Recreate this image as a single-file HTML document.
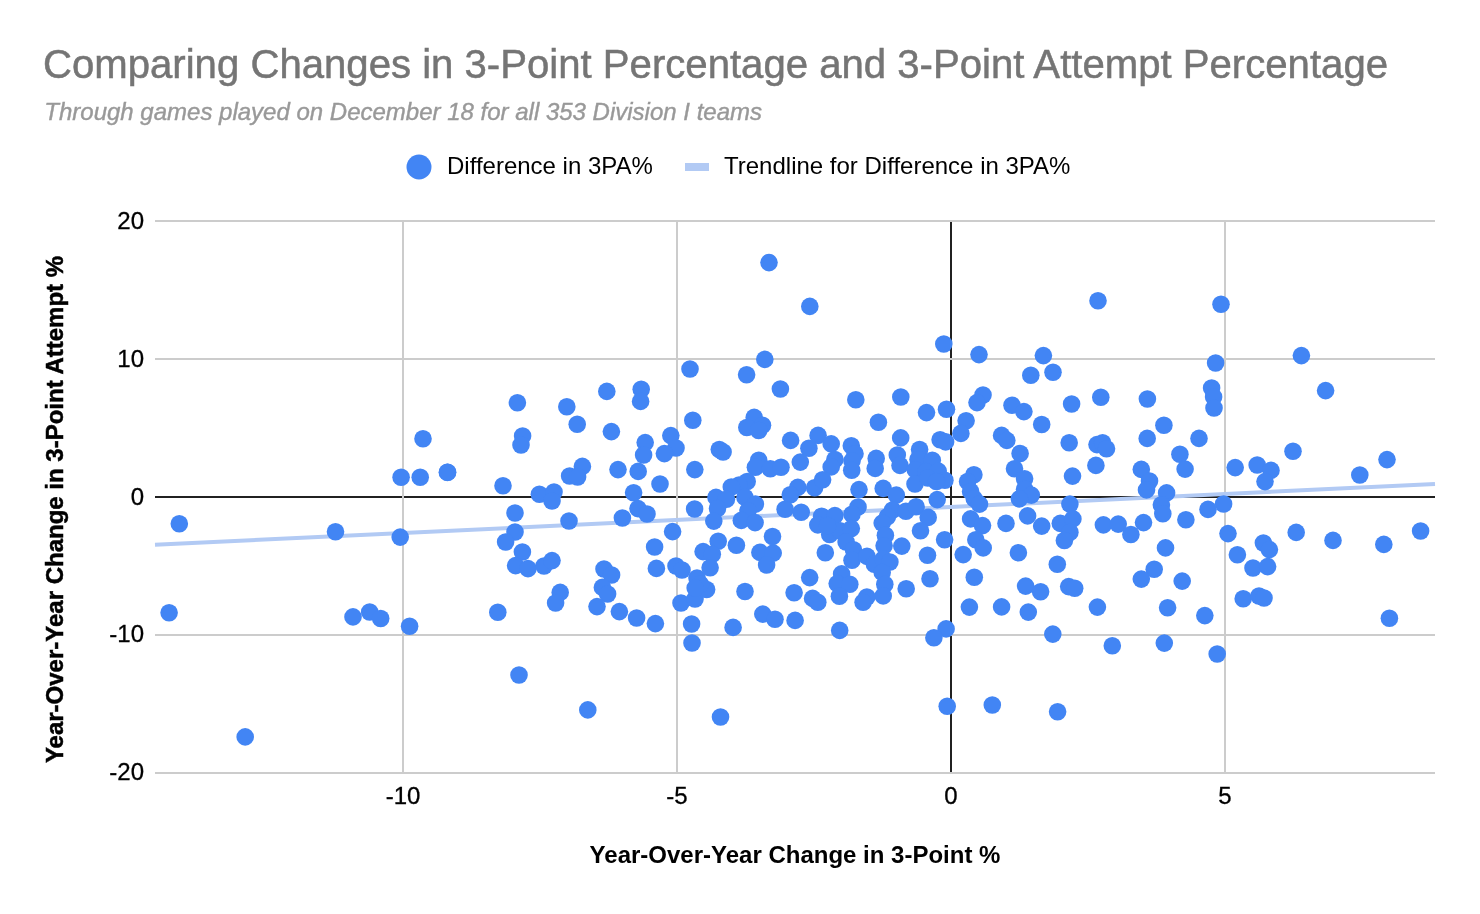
<!DOCTYPE html>
<html><head><meta charset="utf-8"><title>Chart</title>
<style>
html,body{margin:0;padding:0;background:#fff;}
body{width:1480px;height:914px;overflow:hidden;font-family:"Liberation Sans",sans-serif;}
svg{display:block}
text{font-family:"Liberation Sans",sans-serif;}
</style></head><body>
<svg width="1480" height="914" viewBox="0 0 1480 914">
<rect width="1480" height="914" fill="#fff"/>
<text x="43" y="78" font-size="40.13" fill="#757575" stroke="#757575" stroke-width="0.5">Comparing Changes in 3-Point Percentage and 3-Point Attempt Percentage</text>
<text x="44.3" y="120" font-size="24" font-style="italic" fill="#999999" stroke="#999999" stroke-width="0.4">Through games played on December 18 for all 353 Division I teams</text>
<circle cx="419" cy="167" r="12.5" fill="#4285f4"/>
<text x="447" y="174" font-size="24" fill="#000">Difference in 3PA%</text>
<rect x="685" y="163" width="24" height="8" fill="#b2caf4"/>
<text x="724" y="174" font-size="24" fill="#000">Trendline for Difference in 3PA%</text>
<g stroke="#212121" stroke-width="2">
<line x1="155" x2="1435" y1="497" y2="497"/>
<line x1="951" x2="951" y1="221" y2="773"/>
</g>
<g stroke="#cccccc" stroke-width="2">
<line x1="403" x2="403" y1="221" y2="773"/>
<line x1="677" x2="677" y1="221" y2="773"/>
<line x1="1225" x2="1225" y1="221" y2="773"/>
<line x1="155" x2="1435" y1="221" y2="221"/>
<line x1="155" x2="1435" y1="359" y2="359"/>
<line x1="155" x2="1435" y1="635" y2="635"/>
<line x1="155" x2="1435" y1="773" y2="773"/>
</g>
<line x1="155" y1="544.8" x2="1435" y2="484" stroke="#b2caf4" stroke-width="4"/>
<g fill="#4285f4"><circle cx="423.0" cy="438.7" r="8.8"/><circle cx="401.1" cy="477.3" r="8.8"/><circle cx="420.2" cy="477.3" r="8.8"/><circle cx="447.4" cy="472.4" r="8.8"/><circle cx="179.3" cy="523.7" r="8.8"/><circle cx="335.5" cy="531.8" r="8.8"/><circle cx="400.2" cy="537.1" r="8.8"/><circle cx="169.1" cy="612.8" r="8.8"/><circle cx="353.0" cy="616.9" r="8.8"/><circle cx="369.7" cy="612.0" r="8.8"/><circle cx="380.7" cy="618.5" r="8.8"/><circle cx="409.6" cy="626.2" r="8.8"/><circle cx="245.2" cy="736.9" r="8.8"/><circle cx="690.0" cy="369.0" r="8.8"/><circle cx="606.8" cy="391.4" r="8.8"/><circle cx="641.2" cy="389.2" r="8.8"/><circle cx="640.6" cy="401.4" r="8.8"/><circle cx="517.4" cy="402.8" r="8.8"/><circle cx="566.8" cy="406.8" r="8.8"/><circle cx="577.2" cy="424.2" r="8.8"/><circle cx="692.8" cy="420.2" r="8.8"/><circle cx="611.4" cy="431.6" r="8.8"/><circle cx="522.6" cy="436.0" r="8.8"/><circle cx="521.0" cy="445.0" r="8.8"/><circle cx="670.8" cy="435.6" r="8.8"/><circle cx="676.0" cy="448.0" r="8.8"/><circle cx="664.4" cy="453.6" r="8.8"/><circle cx="645.2" cy="442.6" r="8.8"/><circle cx="643.6" cy="455.0" r="8.8"/><circle cx="447.6" cy="472.2" r="8.8"/><circle cx="582.4" cy="466.4" r="8.8"/><circle cx="569.6" cy="476.0" r="8.8"/><circle cx="577.6" cy="477.0" r="8.8"/><circle cx="618.0" cy="469.6" r="8.8"/><circle cx="638.2" cy="471.4" r="8.8"/><circle cx="694.8" cy="469.6" r="8.8"/><circle cx="660.0" cy="484.0" r="8.8"/><circle cx="503.0" cy="485.8" r="8.8"/><circle cx="633.6" cy="492.8" r="8.8"/><circle cx="539.4" cy="494.2" r="8.8"/><circle cx="554.0" cy="492.0" r="8.8"/><circle cx="552.0" cy="501.0" r="8.8"/><circle cx="638.0" cy="508.6" r="8.8"/><circle cx="694.6" cy="509.0" r="8.8"/><circle cx="769.0" cy="262.6" r="8.8"/><circle cx="809.8" cy="306.4" r="8.8"/><circle cx="943.8" cy="344.0" r="8.8"/><circle cx="979.0" cy="354.6" r="8.8"/><circle cx="764.8" cy="359.4" r="8.8"/><circle cx="746.6" cy="374.8" r="8.8"/><circle cx="780.4" cy="389.0" r="8.8"/><circle cx="855.8" cy="399.8" r="8.8"/><circle cx="900.8" cy="397.0" r="8.8"/><circle cx="983.0" cy="395.0" r="8.8"/><circle cx="977.0" cy="402.6" r="8.8"/><circle cx="1098.0" cy="300.8" r="8.8"/><circle cx="1221.0" cy="304.2" r="8.8"/><circle cx="1043.4" cy="355.6" r="8.8"/><circle cx="1215.6" cy="363.0" r="8.8"/><circle cx="1030.8" cy="375.2" r="8.8"/><circle cx="1053.0" cy="372.2" r="8.8"/><circle cx="1100.8" cy="397.2" r="8.8"/><circle cx="1147.4" cy="399.0" r="8.8"/><circle cx="1071.6" cy="404.0" r="8.8"/><circle cx="1211.6" cy="388.0" r="8.8"/><circle cx="1213.6" cy="397.0" r="8.8"/><circle cx="1301.4" cy="355.6" r="8.8"/><circle cx="1325.6" cy="390.6" r="8.8"/><circle cx="1214.0" cy="408.0" r="8.8"/><circle cx="1199.0" cy="438.4" r="8.8"/><circle cx="1235.2" cy="467.6" r="8.8"/><circle cx="1257.2" cy="465.0" r="8.8"/><circle cx="1271.0" cy="470.4" r="8.8"/><circle cx="1265.0" cy="481.6" r="8.8"/><circle cx="1293.0" cy="451.2" r="8.8"/><circle cx="1359.8" cy="475.0" r="8.8"/><circle cx="1387.0" cy="459.6" r="8.8"/><circle cx="1223.6" cy="504.0" r="8.8"/><circle cx="1208.0" cy="509.4" r="8.8"/><circle cx="1228.0" cy="533.6" r="8.8"/><circle cx="1296.2" cy="532.4" r="8.8"/><circle cx="1333.0" cy="540.4" r="8.8"/><circle cx="1383.8" cy="544.4" r="8.8"/><circle cx="1420.6" cy="531.0" r="8.8"/><circle cx="1263.4" cy="543.0" r="8.8"/><circle cx="1269.4" cy="549.6" r="8.8"/><circle cx="1237.4" cy="554.8" r="8.8"/><circle cx="1253.0" cy="568.0" r="8.8"/><circle cx="1267.6" cy="566.6" r="8.8"/><circle cx="1243.2" cy="598.8" r="8.8"/><circle cx="1259.0" cy="596.0" r="8.8"/><circle cx="1264.0" cy="598.0" r="8.8"/><circle cx="1204.8" cy="615.6" r="8.8"/><circle cx="1389.4" cy="618.2" r="8.8"/><circle cx="1217.2" cy="654.0" r="8.8"/><circle cx="1012.0" cy="405.2" r="8.8"/><circle cx="1023.9" cy="411.6" r="8.8"/><circle cx="1041.7" cy="424.5" r="8.8"/><circle cx="1163.9" cy="425.3" r="8.8"/><circle cx="1147.2" cy="438.4" r="8.8"/><circle cx="1001.6" cy="435.4" r="8.8"/><circle cx="1006.8" cy="440.4" r="8.8"/><circle cx="1069.2" cy="442.7" r="8.8"/><circle cx="1097.0" cy="444.6" r="8.8"/><circle cx="1102.6" cy="442.7" r="8.8"/><circle cx="1106.5" cy="448.8" r="8.8"/><circle cx="1020.1" cy="453.5" r="8.8"/><circle cx="1179.9" cy="454.3" r="8.8"/><circle cx="1095.9" cy="465.4" r="8.8"/><circle cx="1185.1" cy="469.1" r="8.8"/><circle cx="1014.5" cy="468.7" r="8.8"/><circle cx="1141.3" cy="469.4" r="8.8"/><circle cx="1072.5" cy="476.1" r="8.8"/><circle cx="1024.6" cy="478.8" r="8.8"/><circle cx="1149.5" cy="481.0" r="8.8"/><circle cx="1146.5" cy="489.9" r="8.8"/><circle cx="1166.6" cy="492.9" r="8.8"/><circle cx="1024.6" cy="489.2" r="8.8"/><circle cx="1031.3" cy="495.1" r="8.8"/><circle cx="1019.4" cy="498.9" r="8.8"/><circle cx="1069.9" cy="504.1" r="8.8"/><circle cx="1161.4" cy="504.8" r="8.8"/><circle cx="1162.8" cy="513.7" r="8.8"/><circle cx="1027.6" cy="515.9" r="8.8"/><circle cx="1006.0" cy="523.4" r="8.8"/><circle cx="1185.9" cy="519.7" r="8.8"/><circle cx="1143.5" cy="522.6" r="8.8"/><circle cx="1060.3" cy="523.4" r="8.8"/><circle cx="1072.9" cy="518.9" r="8.8"/><circle cx="1103.4" cy="524.9" r="8.8"/><circle cx="1118.2" cy="524.1" r="8.8"/><circle cx="1041.7" cy="526.1" r="8.8"/><circle cx="1069.9" cy="532.3" r="8.8"/><circle cx="1064.4" cy="540.5" r="8.8"/><circle cx="1130.9" cy="534.5" r="8.8"/><circle cx="1165.5" cy="547.9" r="8.8"/><circle cx="1018.4" cy="552.7" r="8.8"/><circle cx="1057.3" cy="564.3" r="8.8"/><circle cx="1154.2" cy="569.2" r="8.8"/><circle cx="1141.3" cy="579.1" r="8.8"/><circle cx="1182.2" cy="581.1" r="8.8"/><circle cx="1025.6" cy="586.1" r="8.8"/><circle cx="1040.6" cy="591.8" r="8.8"/><circle cx="1068.7" cy="586.6" r="8.8"/><circle cx="1074.7" cy="588.3" r="8.8"/><circle cx="1001.6" cy="606.9" r="8.8"/><circle cx="1028.3" cy="612.1" r="8.8"/><circle cx="1097.4" cy="607.1" r="8.8"/><circle cx="1167.6" cy="607.7" r="8.8"/><circle cx="1052.8" cy="634.1" r="8.8"/><circle cx="1112.3" cy="645.8" r="8.8"/><circle cx="1164.3" cy="643.1" r="8.8"/><circle cx="992.3" cy="705.0" r="8.8"/><circle cx="1057.6" cy="711.7" r="8.8"/><circle cx="515.0" cy="513.0" r="8.8"/><circle cx="569.0" cy="521.0" r="8.8"/><circle cx="622.4" cy="518.0" r="8.8"/><circle cx="647.0" cy="514.0" r="8.8"/><circle cx="515.0" cy="532.0" r="8.8"/><circle cx="505.6" cy="542.0" r="8.8"/><circle cx="522.4" cy="552.0" r="8.8"/><circle cx="515.6" cy="565.6" r="8.8"/><circle cx="528.0" cy="568.6" r="8.8"/><circle cx="544.0" cy="566.0" r="8.8"/><circle cx="552.0" cy="560.6" r="8.8"/><circle cx="672.6" cy="531.6" r="8.8"/><circle cx="654.6" cy="547.0" r="8.8"/><circle cx="656.4" cy="568.4" r="8.8"/><circle cx="604.0" cy="569.0" r="8.8"/><circle cx="611.6" cy="575.0" r="8.8"/><circle cx="602.4" cy="587.4" r="8.8"/><circle cx="607.6" cy="594.0" r="8.8"/><circle cx="597.0" cy="606.6" r="8.8"/><circle cx="560.2" cy="592.4" r="8.8"/><circle cx="555.6" cy="603.0" r="8.8"/><circle cx="497.8" cy="612.2" r="8.8"/><circle cx="619.4" cy="611.6" r="8.8"/><circle cx="636.6" cy="618.0" r="8.8"/><circle cx="655.4" cy="623.6" r="8.8"/><circle cx="676.0" cy="566.0" r="8.8"/><circle cx="682.0" cy="570.0" r="8.8"/><circle cx="681.0" cy="603.0" r="8.8"/><circle cx="691.6" cy="624.0" r="8.8"/><circle cx="692.0" cy="643.0" r="8.8"/><circle cx="519.0" cy="675.0" r="8.8"/><circle cx="697.0" cy="578.0" r="8.8"/><circle cx="695.0" cy="599.0" r="8.8"/><circle cx="587.8" cy="709.9" r="8.8"/><circle cx="720.5" cy="717.0" r="8.8"/><circle cx="947.2" cy="706.2" r="8.8"/><circle cx="754.2" cy="417.4" r="8.8"/><circle cx="746.8" cy="427.5" r="8.8"/><circle cx="762.5" cy="425.3" r="8.8"/><circle cx="758.7" cy="430.5" r="8.8"/><circle cx="719.3" cy="449.5" r="8.8"/><circle cx="723.1" cy="452.0" r="8.8"/><circle cx="790.6" cy="440.4" r="8.8"/><circle cx="818.1" cy="435.4" r="8.8"/><circle cx="831.2" cy="443.9" r="8.8"/><circle cx="808.9" cy="448.3" r="8.8"/><circle cx="800.3" cy="462.1" r="8.8"/><circle cx="834.9" cy="459.5" r="8.8"/><circle cx="831.2" cy="466.9" r="8.8"/><circle cx="758.7" cy="460.2" r="8.8"/><circle cx="755.4" cy="467.2" r="8.8"/><circle cx="770.3" cy="468.7" r="8.8"/><circle cx="781.0" cy="467.2" r="8.8"/><circle cx="747.2" cy="481.5" r="8.8"/><circle cx="739.1" cy="485.0" r="8.8"/><circle cx="731.3" cy="487.0" r="8.8"/><circle cx="716.0" cy="497.4" r="8.8"/><circle cx="726.4" cy="499.3" r="8.8"/><circle cx="717.5" cy="508.5" r="8.8"/><circle cx="745.0" cy="497.4" r="8.8"/><circle cx="755.4" cy="504.1" r="8.8"/><circle cx="748.0" cy="510.7" r="8.8"/><circle cx="797.8" cy="487.4" r="8.8"/><circle cx="790.3" cy="494.7" r="8.8"/><circle cx="814.6" cy="487.7" r="8.8"/><circle cx="822.6" cy="479.8" r="8.8"/><circle cx="785.1" cy="509.3" r="8.8"/><circle cx="801.2" cy="512.2" r="8.8"/><circle cx="821.6" cy="516.2" r="8.8"/><circle cx="834.9" cy="515.6" r="8.8"/><circle cx="851.3" cy="445.8" r="8.8"/><circle cx="855.0" cy="453.8" r="8.8"/><circle cx="852.0" cy="460.9" r="8.8"/><circle cx="851.7" cy="470.2" r="8.8"/><circle cx="859.0" cy="489.6" r="8.8"/><circle cx="858.0" cy="507.0" r="8.8"/><circle cx="852.0" cy="514.2" r="8.8"/><circle cx="878.4" cy="422.3" r="8.8"/><circle cx="926.5" cy="412.6" r="8.8"/><circle cx="946.5" cy="409.2" r="8.8"/><circle cx="900.7" cy="437.9" r="8.8"/><circle cx="876.2" cy="458.4" r="8.8"/><circle cx="875.2" cy="468.4" r="8.8"/><circle cx="897.3" cy="455.0" r="8.8"/><circle cx="900.0" cy="465.4" r="8.8"/><circle cx="940.1" cy="439.8" r="8.8"/><circle cx="945.6" cy="441.9" r="8.8"/><circle cx="966.1" cy="420.8" r="8.8"/><circle cx="960.9" cy="433.4" r="8.8"/><circle cx="919.6" cy="449.5" r="8.8"/><circle cx="918.0" cy="459.5" r="8.8"/><circle cx="932.3" cy="460.2" r="8.8"/><circle cx="915.3" cy="469.9" r="8.8"/><circle cx="926.0" cy="471.6" r="8.8"/><circle cx="938.2" cy="471.1" r="8.8"/><circle cx="915.0" cy="484.0" r="8.8"/><circle cx="927.9" cy="478.0" r="8.8"/><circle cx="944.9" cy="480.3" r="8.8"/><circle cx="936.4" cy="481.5" r="8.8"/><circle cx="937.2" cy="499.6" r="8.8"/><circle cx="883.2" cy="488.4" r="8.8"/><circle cx="896.3" cy="495.1" r="8.8"/><circle cx="973.9" cy="474.8" r="8.8"/><circle cx="967.6" cy="481.5" r="8.8"/><circle cx="970.6" cy="491.4" r="8.8"/><circle cx="974.3" cy="498.9" r="8.8"/><circle cx="979.5" cy="504.1" r="8.8"/><circle cx="970.6" cy="518.9" r="8.8"/><circle cx="892.6" cy="510.0" r="8.8"/><circle cx="887.4" cy="516.7" r="8.8"/><circle cx="905.9" cy="511.2" r="8.8"/><circle cx="916.1" cy="506.7" r="8.8"/><circle cx="928.2" cy="517.4" r="8.8"/><circle cx="713.8" cy="521.1" r="8.8"/><circle cx="718.2" cy="541.2" r="8.8"/><circle cx="703.1" cy="551.6" r="8.8"/><circle cx="712.3" cy="554.3" r="8.8"/><circle cx="710.1" cy="567.7" r="8.8"/><circle cx="706.6" cy="589.5" r="8.8"/><circle cx="700.4" cy="584.3" r="8.8"/><circle cx="736.4" cy="545.2" r="8.8"/><circle cx="741.3" cy="520.4" r="8.8"/><circle cx="755.1" cy="522.6" r="8.8"/><circle cx="772.5" cy="536.5" r="8.8"/><circle cx="759.9" cy="552.4" r="8.8"/><circle cx="773.2" cy="553.1" r="8.8"/><circle cx="766.6" cy="565.0" r="8.8"/><circle cx="745.0" cy="591.5" r="8.8"/><circle cx="809.7" cy="577.6" r="8.8"/><circle cx="794.1" cy="592.8" r="8.8"/><circle cx="812.6" cy="598.4" r="8.8"/><circle cx="817.8" cy="602.2" r="8.8"/><circle cx="762.8" cy="614.1" r="8.8"/><circle cx="775.0" cy="619.3" r="8.8"/><circle cx="795.1" cy="620.4" r="8.8"/><circle cx="733.1" cy="627.4" r="8.8"/><circle cx="839.7" cy="630.4" r="8.8"/><circle cx="825.3" cy="552.7" r="8.8"/><circle cx="817.8" cy="524.9" r="8.8"/><circle cx="829.7" cy="534.5" r="8.8"/><circle cx="840.1" cy="530.8" r="8.8"/><circle cx="851.3" cy="528.6" r="8.8"/><circle cx="846.1" cy="542.0" r="8.8"/><circle cx="853.5" cy="549.8" r="8.8"/><circle cx="852.0" cy="560.2" r="8.8"/><circle cx="841.6" cy="573.9" r="8.8"/><circle cx="837.2" cy="583.6" r="8.8"/><circle cx="849.8" cy="584.3" r="8.8"/><circle cx="839.4" cy="596.2" r="8.8"/><circle cx="867.0" cy="556.4" r="8.8"/><circle cx="874.4" cy="564.3" r="8.8"/><circle cx="882.2" cy="523.1" r="8.8"/><circle cx="885.4" cy="535.3" r="8.8"/><circle cx="884.1" cy="545.7" r="8.8"/><circle cx="883.2" cy="559.1" r="8.8"/><circle cx="889.9" cy="562.0" r="8.8"/><circle cx="882.2" cy="572.4" r="8.8"/><circle cx="884.8" cy="584.3" r="8.8"/><circle cx="883.2" cy="595.9" r="8.8"/><circle cx="866.9" cy="597.0" r="8.8"/><circle cx="863.1" cy="602.2" r="8.8"/><circle cx="901.8" cy="546.1" r="8.8"/><circle cx="906.2" cy="588.8" r="8.8"/><circle cx="927.5" cy="555.3" r="8.8"/><circle cx="930.0" cy="578.7" r="8.8"/><circle cx="944.6" cy="539.7" r="8.8"/><circle cx="920.5" cy="530.8" r="8.8"/><circle cx="982.5" cy="525.6" r="8.8"/><circle cx="975.8" cy="539.7" r="8.8"/><circle cx="983.2" cy="547.9" r="8.8"/><circle cx="963.2" cy="554.6" r="8.8"/><circle cx="974.3" cy="577.2" r="8.8"/><circle cx="969.4" cy="607.1" r="8.8"/><circle cx="946.1" cy="628.9" r="8.8"/><circle cx="933.9" cy="637.8" r="8.8"/><circle cx="827.5" cy="525.6" r="8.8"/><circle cx="695.2" cy="588.0" r="8.8"/></g>
<g font-size="24" fill="#000" stroke="#000" stroke-width="0.3" text-anchor="end">
<text x="144" y="228.7">20</text>
<text x="144" y="366.7">10</text>
<text x="144" y="504.5">0</text>
<text x="144" y="642.2">-10</text>
<text x="144" y="780.2">-20</text>
</g>
<g font-size="24" fill="#000" stroke="#000" stroke-width="0.3" text-anchor="middle">
<text x="403" y="804">-10</text>
<text x="677" y="804">-5</text>
<text x="951" y="804">0</text>
<text x="1225" y="804">5</text>
</g>
<text x="795" y="863" font-size="24" font-weight="bold" fill="#000" text-anchor="middle">Year-Over-Year Change in 3-Point %</text>
<text transform="translate(62.8,509.5) rotate(-90)" font-size="24" font-weight="bold" fill="#000" stroke="#000" stroke-width="0.5" text-anchor="middle">Year-Over-Year Change in 3-Point Attempt %</text>
</svg>
</body></html>
